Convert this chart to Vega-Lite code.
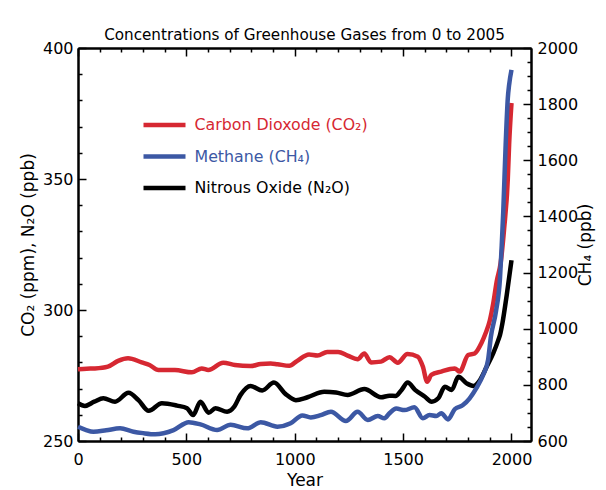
{
  "$schema": "https://vega.github.io/schema/vega-lite/v6.json",
  "width": 453,
  "height": 393,
  "autosize": {"type": "none"},
  "padding": {"left": 78, "top": 48, "right": 75, "bottom": 49},
  "background": "white",
  "title": {"text": "Concentrations of Greenhouse Gases from 0 to 2005", "font": "DejaVu Sans", "fontSize": 15.2, "fontWeight": "normal", "color": "black", "anchor": "middle", "frame": "group", "offset": -3},
  "config": {
    "view": {"stroke": null},
    "font": "DejaVu Sans",
    "axis": {"domainColor": "black", "domainWidth": 2, "tickColor": "black", "tickWidth": 1.5, "labelColor": "black", "labelFont": "DejaVu Sans", "labelFontSize": 16, "titleFont": "DejaVu Sans", "titleFontSize": 17, "titleFontWeight": "normal", "titleColor": "black", "grid": false, "labelFlush": false, "labelOverlap": false, "labelBound": false}
  },
  "datasets": {
    "ghg": [
      {"gas": "Carbon Dioxode (CO₂)", "year": 0, "value": 277.4},
      {"gas": "Carbon Dioxode (CO₂)", "year": 40, "value": 277.6},
      {"gas": "Carbon Dioxode (CO₂)", "year": 78, "value": 277.7},
      {"gas": "Carbon Dioxode (CO₂)", "year": 138, "value": 278.4},
      {"gas": "Carbon Dioxode (CO₂)", "year": 185, "value": 280.6},
      {"gas": "Carbon Dioxode (CO₂)", "year": 231, "value": 281.6},
      {"gas": "Carbon Dioxode (CO₂)", "year": 294, "value": 280.0},
      {"gas": "Carbon Dioxode (CO₂)", "year": 330, "value": 279.0},
      {"gas": "Carbon Dioxode (CO₂)", "year": 371, "value": 277.1},
      {"gas": "Carbon Dioxode (CO₂)", "year": 447, "value": 277.1},
      {"gas": "Carbon Dioxode (CO₂)", "year": 525, "value": 276.2},
      {"gas": "Carbon Dioxode (CO₂)", "year": 571, "value": 277.7},
      {"gas": "Carbon Dioxode (CO₂)", "year": 601, "value": 277.1},
      {"gas": "Carbon Dioxode (CO₂)", "year": 670, "value": 279.9},
      {"gas": "Carbon Dioxode (CO₂)", "year": 724, "value": 279.0},
      {"gas": "Carbon Dioxode (CO₂)", "year": 796, "value": 278.6},
      {"gas": "Carbon Dioxode (CO₂)", "year": 843, "value": 279.4},
      {"gas": "Carbon Dioxode (CO₂)", "year": 889, "value": 279.6},
      {"gas": "Carbon Dioxode (CO₂)", "year": 920, "value": 279.3},
      {"gas": "Carbon Dioxode (CO₂)", "year": 975, "value": 278.7},
      {"gas": "Carbon Dioxode (CO₂)", "year": 1010, "value": 280.5},
      {"gas": "Carbon Dioxode (CO₂)", "year": 1066, "value": 283.0},
      {"gas": "Carbon Dioxode (CO₂)", "year": 1105, "value": 282.6},
      {"gas": "Carbon Dioxode (CO₂)", "year": 1150, "value": 284.0},
      {"gas": "Carbon Dioxode (CO₂)", "year": 1200, "value": 284.0},
      {"gas": "Carbon Dioxode (CO₂)", "year": 1244, "value": 282.6},
      {"gas": "Carbon Dioxode (CO₂)", "year": 1290, "value": 281.2},
      {"gas": "Carbon Dioxode (CO₂)", "year": 1321, "value": 283.4},
      {"gas": "Carbon Dioxode (CO₂)", "year": 1352, "value": 280.0},
      {"gas": "Carbon Dioxode (CO₂)", "year": 1398, "value": 280.3},
      {"gas": "Carbon Dioxode (CO₂)", "year": 1437, "value": 282.0},
      {"gas": "Carbon Dioxode (CO₂)", "year": 1475, "value": 279.9},
      {"gas": "Carbon Dioxode (CO₂)", "year": 1520, "value": 283.2},
      {"gas": "Carbon Dioxode (CO₂)", "year": 1568, "value": 282.2},
      {"gas": "Carbon Dioxode (CO₂)", "year": 1591, "value": 278.4},
      {"gas": "Carbon Dioxode (CO₂)", "year": 1611, "value": 272.6},
      {"gas": "Carbon Dioxode (CO₂)", "year": 1630, "value": 275.2},
      {"gas": "Carbon Dioxode (CO₂)", "year": 1676, "value": 276.5},
      {"gas": "Carbon Dioxode (CO₂)", "year": 1738, "value": 277.7},
      {"gas": "Carbon Dioxode (CO₂)", "year": 1761, "value": 276.5},
      {"gas": "Carbon Dioxode (CO₂)", "year": 1800, "value": 282.8},
      {"gas": "Carbon Dioxode (CO₂)", "year": 1830, "value": 283.4},
      {"gas": "Carbon Dioxode (CO₂)", "year": 1861, "value": 287.3},
      {"gas": "Carbon Dioxode (CO₂)", "year": 1880, "value": 291.0},
      {"gas": "Carbon Dioxode (CO₂)", "year": 1900, "value": 296.0},
      {"gas": "Carbon Dioxode (CO₂)", "year": 1916, "value": 302.6},
      {"gas": "Carbon Dioxode (CO₂)", "year": 1932, "value": 311.0},
      {"gas": "Carbon Dioxode (CO₂)", "year": 1950, "value": 318.0},
      {"gas": "Carbon Dioxode (CO₂)", "year": 1966, "value": 331.0},
      {"gas": "Carbon Dioxode (CO₂)", "year": 1983, "value": 350.0},
      {"gas": "Carbon Dioxode (CO₂)", "year": 1989, "value": 363.0},
      {"gas": "Carbon Dioxode (CO₂)", "year": 2000, "value": 379.0},
      {"gas": "Methane (CH₄)", "year": 0, "value": 651},
      {"gas": "Methane (CH₄)", "year": 35, "value": 640},
      {"gas": "Methane (CH₄)", "year": 71, "value": 633},
      {"gas": "Methane (CH₄)", "year": 130, "value": 638},
      {"gas": "Methane (CH₄)", "year": 194, "value": 645},
      {"gas": "Methane (CH₄)", "year": 256, "value": 633},
      {"gas": "Methane (CH₄)", "year": 300, "value": 628},
      {"gas": "Methane (CH₄)", "year": 356, "value": 624},
      {"gas": "Methane (CH₄)", "year": 441, "value": 639},
      {"gas": "Methane (CH₄)", "year": 511, "value": 667},
      {"gas": "Methane (CH₄)", "year": 565, "value": 659},
      {"gas": "Methane (CH₄)", "year": 642, "value": 639},
      {"gas": "Methane (CH₄)", "year": 704, "value": 658},
      {"gas": "Methane (CH₄)", "year": 781, "value": 645},
      {"gas": "Methane (CH₄)", "year": 843, "value": 667},
      {"gas": "Methane (CH₄)", "year": 920, "value": 651},
      {"gas": "Methane (CH₄)", "year": 981, "value": 663},
      {"gas": "Methane (CH₄)", "year": 1035, "value": 691},
      {"gas": "Methane (CH₄)", "year": 1074, "value": 684},
      {"gas": "Methane (CH₄)", "year": 1120, "value": 692},
      {"gas": "Methane (CH₄)", "year": 1167, "value": 704},
      {"gas": "Methane (CH₄)", "year": 1236, "value": 671},
      {"gas": "Methane (CH₄)", "year": 1290, "value": 704},
      {"gas": "Methane (CH₄)", "year": 1337, "value": 675},
      {"gas": "Methane (CH₄)", "year": 1383, "value": 689},
      {"gas": "Methane (CH₄)", "year": 1414, "value": 681},
      {"gas": "Methane (CH₄)", "year": 1437, "value": 699},
      {"gas": "Methane (CH₄)", "year": 1468, "value": 716},
      {"gas": "Methane (CH₄)", "year": 1506, "value": 710},
      {"gas": "Methane (CH₄)", "year": 1552, "value": 720},
      {"gas": "Methane (CH₄)", "year": 1591, "value": 681},
      {"gas": "Methane (CH₄)", "year": 1622, "value": 693},
      {"gas": "Methane (CH₄)", "year": 1653, "value": 689},
      {"gas": "Methane (CH₄)", "year": 1676, "value": 699},
      {"gas": "Methane (CH₄)", "year": 1707, "value": 677},
      {"gas": "Methane (CH₄)", "year": 1738, "value": 713},
      {"gas": "Methane (CH₄)", "year": 1776, "value": 728},
      {"gas": "Methane (CH₄)", "year": 1807, "value": 752},
      {"gas": "Methane (CH₄)", "year": 1838, "value": 788},
      {"gas": "Methane (CH₄)", "year": 1869, "value": 835},
      {"gas": "Methane (CH₄)", "year": 1892, "value": 889},
      {"gas": "Methane (CH₄)", "year": 1905, "value": 972},
      {"gas": "Methane (CH₄)", "year": 1928, "value": 1060},
      {"gas": "Methane (CH₄)", "year": 1947, "value": 1180},
      {"gas": "Methane (CH₄)", "year": 1955, "value": 1298},
      {"gas": "Methane (CH₄)", "year": 1962, "value": 1417},
      {"gas": "Methane (CH₄)", "year": 1973, "value": 1654},
      {"gas": "Methane (CH₄)", "year": 1983, "value": 1821},
      {"gas": "Methane (CH₄)", "year": 1989, "value": 1868},
      {"gas": "Methane (CH₄)", "year": 2000, "value": 1922},
      {"gas": "Nitrous Oxide (N₂O)", "year": 0, "value": 264.4},
      {"gas": "Nitrous Oxide (N₂O)", "year": 32, "value": 263.4},
      {"gas": "Nitrous Oxide (N₂O)", "year": 75, "value": 265.0},
      {"gas": "Nitrous Oxide (N₂O)", "year": 117, "value": 266.3},
      {"gas": "Nitrous Oxide (N₂O)", "year": 171, "value": 265.0},
      {"gas": "Nitrous Oxide (N₂O)", "year": 233, "value": 268.4},
      {"gas": "Nitrous Oxide (N₂O)", "year": 279, "value": 265.6},
      {"gas": "Nitrous Oxide (N₂O)", "year": 326, "value": 261.5},
      {"gas": "Nitrous Oxide (N₂O)", "year": 387, "value": 264.4},
      {"gas": "Nitrous Oxide (N₂O)", "year": 457, "value": 263.5},
      {"gas": "Nitrous Oxide (N₂O)", "year": 503, "value": 262.5},
      {"gas": "Nitrous Oxide (N₂O)", "year": 531, "value": 259.9},
      {"gas": "Nitrous Oxide (N₂O)", "year": 565, "value": 265.0},
      {"gas": "Nitrous Oxide (N₂O)", "year": 603, "value": 260.8},
      {"gas": "Nitrous Oxide (N₂O)", "year": 634, "value": 262.5},
      {"gas": "Nitrous Oxide (N₂O)", "year": 688, "value": 261.2},
      {"gas": "Nitrous Oxide (N₂O)", "year": 720, "value": 263.0},
      {"gas": "Nitrous Oxide (N₂O)", "year": 750, "value": 267.6},
      {"gas": "Nitrous Oxide (N₂O)", "year": 796, "value": 271.0},
      {"gas": "Nitrous Oxide (N₂O)", "year": 850, "value": 269.3},
      {"gas": "Nitrous Oxide (N₂O)", "year": 904, "value": 272.3},
      {"gas": "Nitrous Oxide (N₂O)", "year": 958, "value": 267.9},
      {"gas": "Nitrous Oxide (N₂O)", "year": 1005, "value": 265.6},
      {"gas": "Nitrous Oxide (N₂O)", "year": 1059, "value": 266.7},
      {"gas": "Nitrous Oxide (N₂O)", "year": 1136, "value": 268.8},
      {"gas": "Nitrous Oxide (N₂O)", "year": 1190, "value": 268.5},
      {"gas": "Nitrous Oxide (N₂O)", "year": 1244, "value": 267.6},
      {"gas": "Nitrous Oxide (N₂O)", "year": 1321, "value": 269.8},
      {"gas": "Nitrous Oxide (N₂O)", "year": 1398, "value": 266.7},
      {"gas": "Nitrous Oxide (N₂O)", "year": 1437, "value": 267.3},
      {"gas": "Nitrous Oxide (N₂O)", "year": 1465, "value": 267.2},
      {"gas": "Nitrous Oxide (N₂O)", "year": 1493, "value": 269.5},
      {"gas": "Nitrous Oxide (N₂O)", "year": 1521, "value": 272.3},
      {"gas": "Nitrous Oxide (N₂O)", "year": 1555, "value": 269.5},
      {"gas": "Nitrous Oxide (N₂O)", "year": 1601, "value": 266.9},
      {"gas": "Nitrous Oxide (N₂O)", "year": 1632, "value": 265.0},
      {"gas": "Nitrous Oxide (N₂O)", "year": 1662, "value": 266.3},
      {"gas": "Nitrous Oxide (N₂O)", "year": 1693, "value": 270.7},
      {"gas": "Nitrous Oxide (N₂O)", "year": 1724, "value": 269.5},
      {"gas": "Nitrous Oxide (N₂O)", "year": 1755, "value": 274.5},
      {"gas": "Nitrous Oxide (N₂O)", "year": 1793, "value": 272.0},
      {"gas": "Nitrous Oxide (N₂O)", "year": 1824, "value": 271.0},
      {"gas": "Nitrous Oxide (N₂O)", "year": 1855, "value": 273.3},
      {"gas": "Nitrous Oxide (N₂O)", "year": 1886, "value": 278.4},
      {"gas": "Nitrous Oxide (N₂O)", "year": 1916, "value": 283.5},
      {"gas": "Nitrous Oxide (N₂O)", "year": 1939, "value": 288.5},
      {"gas": "Nitrous Oxide (N₂O)", "year": 1947, "value": 290.5},
      {"gas": "Nitrous Oxide (N₂O)", "year": 1958, "value": 294.9},
      {"gas": "Nitrous Oxide (N₂O)", "year": 1978, "value": 305.7},
      {"gas": "Nitrous Oxide (N₂O)", "year": 2000, "value": 319.0}
    ]
  },
  "data": {"name": "ghg"},
  "layer": [
    {
      "transform": [{"filter": {"field": "gas", "equal": "Nitrous Oxide (N₂O)"}}],
      "mark": {"type": "line", "strokeWidth": 4.5, "interpolate": "monotone"},
      "encoding": {
        "x": {"field": "year", "type": "quantitative", "scale": {"domain": [0, 2090], "nice": false, "zero": false},
          "axis": {"orient": "bottom", "title": null, "labels": false, "values": [100,200,300,400,600,700,800,900,1100,1200,1300,1400,1600,1700,1800,1900], "tickSize": -4}},
        "y": {"field": "value", "type": "quantitative", "scale": {"domain": [250, 400], "nice": false, "zero": false},
          "axis": {"orient": "left", "title": null, "labels": false, "values": [260,270,280,290,310,320,330,340,360,370,380,390], "tickSize": -4}},
        "color": {"field": "gas", "type": "nominal", "scale": {"domain": ["Carbon Dioxode (CO₂)", "Methane (CH₄)", "Nitrous Oxide (N₂O)"], "range": ["#d62832", "#3c58a4", "#000000"]},
          "legend": {"title": null, "orient": "none", "legendX": 63, "legendY": 67, "direction": "vertical", "symbolType": "stroke", "symbolSize": 1764, "symbolStrokeWidth": 4.5, "clipHeight": 20, "rowPadding": 11.5, "labelFont": "DejaVu Sans", "labelFontSize": 15.8, "labelOffset": 6.5, "padding": 0, "labelLimit": 300, "encode": {"labels": {"update": {"fill": {"scale": "color", "field": "value"}}}}}}
      }
    },
    {
      "transform": [{"filter": {"field": "gas", "equal": "Carbon Dioxode (CO₂)"}}],
      "mark": {"type": "line", "strokeWidth": 4.5, "interpolate": "monotone"},
      "encoding": {
        "x": {"field": "year", "type": "quantitative", "scale": {"domain": [0, 2090], "nice": false, "zero": false},
          "axis": {"orient": "bottom", "title": "Year", "format": "d", "values": [0, 500, 1000, 1500, 2000], "tickSize": -8, "labelPadding": 18, "titlePadding": 5}},
        "y": {"field": "value", "type": "quantitative", "scale": {"domain": [250, 400], "nice": false, "zero": false},
          "axis": {"orient": "left", "title": "CO₂ (ppm), N₂O (ppb)", "format": "d", "values": [250, 300, 350, 400], "tickSize": -8, "labelPadding": 13, "titlePadding": 5}},
        "color": {"field": "gas", "type": "nominal", "scale": {"domain": ["Carbon Dioxode (CO₂)", "Methane (CH₄)", "Nitrous Oxide (N₂O)"], "range": ["#d62832", "#3c58a4", "#000000"]},
          "legend": {"title": null, "orient": "none", "legendX": 63, "legendY": 67, "direction": "vertical", "symbolType": "stroke", "symbolSize": 1764, "symbolStrokeWidth": 4.5, "clipHeight": 20, "rowPadding": 11.5, "labelFont": "DejaVu Sans", "labelFontSize": 15.8, "labelOffset": 6.5, "padding": 0, "labelLimit": 300, "encode": {"labels": {"update": {"fill": {"scale": "color", "field": "value"}}}}}}
      }
    },
    {
      "transform": [{"filter": {"field": "gas", "equal": "Methane (CH₄)"}}],
      "mark": {"type": "line", "strokeWidth": 4.5, "interpolate": "monotone"},
      "encoding": {
        "x": {"field": "year", "type": "quantitative", "scale": {"domain": [0, 2090], "nice": false, "zero": false},
          "axis": {"orient": "top", "title": null, "labels": false, "values": [0, 500, 1000, 1500, 2000], "tickSize": -8}},
        "y": {"field": "value", "type": "quantitative", "scale": {"domain": [600, 2000], "nice": false, "zero": false},
          "axis": {"orient": "right", "title": "CH₄ (ppb)", "format": "d", "values": [600, 800, 1000, 1200, 1400, 1600, 1800, 2000], "tickSize": -8, "labelPadding": 14, "titleAngle": 270, "titleBaseline": "top", "titlePadding": 0}},
        "color": {"field": "gas", "type": "nominal", "scale": {"domain": ["Carbon Dioxode (CO₂)", "Methane (CH₄)", "Nitrous Oxide (N₂O)"], "range": ["#d62832", "#3c58a4", "#000000"]},
          "legend": {"title": null, "orient": "none", "legendX": 63, "legendY": 67, "direction": "vertical", "symbolType": "stroke", "symbolSize": 1764, "symbolStrokeWidth": 4.5, "clipHeight": 20, "rowPadding": 11.5, "labelFont": "DejaVu Sans", "labelFontSize": 15.8, "labelOffset": 6.5, "padding": 0, "labelLimit": 300, "encode": {"labels": {"update": {"fill": {"scale": "color", "field": "value"}}}}}}
      }
    },
    {
      "transform": [{"filter": {"field": "gas", "equal": "Methane (CH₄)"}}],
      "mark": {"type": "line", "strokeWidth": 4.5, "interpolate": "monotone", "opacity": 0},
      "encoding": {
        "x": {"field": "year", "type": "quantitative", "scale": {"domain": [0, 2090], "nice": false, "zero": false},
          "axis": {"orient": "top", "title": null, "labels": false, "values": [100,200,300,400,600,700,800,900,1100,1200,1300,1400,1600,1700,1800,1900], "tickSize": -4}},
        "y": {"field": "value", "type": "quantitative", "scale": {"domain": [600, 2000], "nice": false, "zero": false},
          "axis": {"orient": "right", "title": null, "labels": false, "values": [650,700,750,850,900,950,1050,1100,1150,1250,1300,1350,1450,1500,1550,1650,1700,1750,1850,1900,1950], "tickSize": -4}}
      }
    }
  ],
  "resolve": {"scale": {"x": "independent", "y": "independent"}, "axis": {"x": "independent", "y": "independent"}}
}
